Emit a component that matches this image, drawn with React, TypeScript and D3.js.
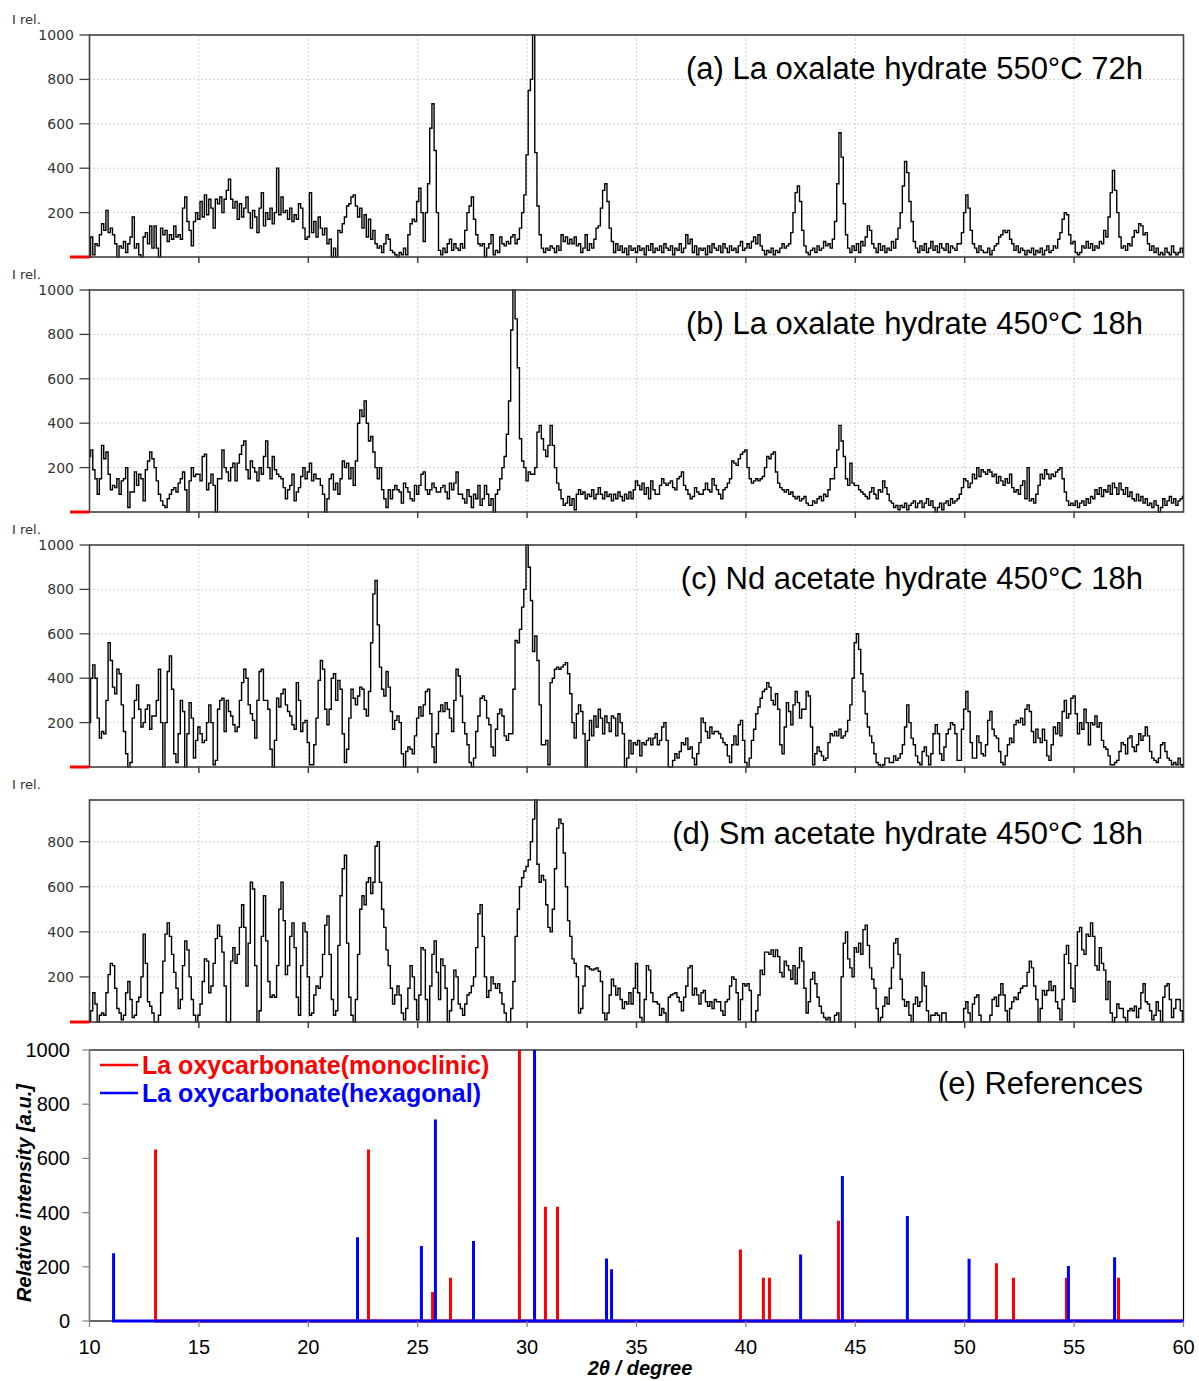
import React from "react";
import * as d3 from "d3";

// Diffractograms sampled every 0.1° from 10° to 60° (2θ)
const SCAN_START = 10;
const SCAN_STEP = 0.1;

const scanA = [
  0, 90, 10, 60, 50, 100, 150, 120, 210, 110,
  130, 100, 60, 0, 50, 40, 70, 20, 60, 90,
  180, 40, 60, 10, 0, 90, 110, 60, 140, 40,
  140, 40, 0, 130, 100, 120, 70, 100, 80, 140,
  90, 100, 80, 220, 270, 160, 120, 50, 160, 200,
  170, 250, 180, 280, 190, 260, 220, 130, 260, 240,
  270, 200, 260, 300, 350, 260, 220, 250, 170, 240,
  180, 220, 270, 200, 130, 210, 180, 110, 220, 290,
  140, 200, 170, 220, 150, 200, 400, 190, 270, 200,
  210, 170, 220, 160, 190, 170, 240, 220, 130, 80,
  90, 290, 110, 160, 90, 180, 130, 100, 130, 60,
  80, 0, 40, 0, 120, 110, 150, 180, 230, 240,
  270, 280, 230, 180, 220, 130, 190, 90, 170, 80,
  120, 60, 40, 50, 20, 60, 100, 80, 30, 20,
  10, 0, 20, 10, 40, 10, 100, 150, 170, 160,
  250, 310, 200, 70, 200, 330, 580, 690, 480, 200,
  30, 10, 40, 20, 60, 80, 30, 60, 40, 30,
  60, 40, 120, 200, 230, 270, 170, 100, 60, 50,
  60, 0, 40, 60, 100, 10, 30, 20, 90, 60,
  50, 70, 60, 90, 100, 60, 80, 130, 200, 280,
  460, 750, 800, 1000, 470, 230, 100, 40, 20, 40,
  30, 50, 40, 20, 50, 30, 100, 70, 90, 60,
  80, 60, 90, 50, 60, 20, 40, 100, 30, 60,
  40, 80, 130, 140, 220, 300, 330, 250, 130, 70,
  20, 60, 30, 50, 20, 40, 10, 50, 30, 40,
  20, 50, 30, 40, 10, 50, 30, 60, 20, 40,
  30, 50, 20, 60, 40, 30, 50, 10, 40, 30,
  60, 20, 40, 100, 60, 80, 20, 50, 10, 40,
  30, 40, 10, 50, 20, 60, 40, 30, 50, 20,
  60, 40, 20, 50, 30, 40, 20, 50, 70, 30,
  40, 60, 40, 70, 90, 60, 100, 50, 30, 10,
  30, 20, 40, 10, 30, 20, 40, 60, 40, 50,
  60, 110, 200, 290, 320, 250, 120, 50, 20, 10,
  30, 40, 20, 50, 30, 40, 70, 50, 60, 40,
  80, 160, 330, 560, 450, 240, 100, 40, 20, 50,
  30, 60, 20, 70, 50, 90, 140, 120, 60, 40,
  20, 60, 30, 50, 20, 40, 30, 70, 40, 80,
  130, 200, 320, 430, 380, 250, 160, 70, 40, 20,
  50, 30, 60, 20, 40, 70, 30, 50, 20, 60,
  40, 30, 60, 20, 50, 40, 30, 60, 60, 110,
  200, 280, 220, 120, 60, 40, 20, 50, 30, 20,
  20, 40, 10, 30, 50, 60, 90, 100, 120, 110,
  120, 80, 60, 30, 50, 20, 40, 30, 10, 30,
  20, 40, 10, 30, 20, 40, 10, 30, 50, 20,
  30, 50, 40, 80, 110, 170, 200, 190, 100, 60,
  70, 20, 10, 20, 50, 40, 70, 40, 60, 30,
  50, 40, 70, 60, 120, 90, 180, 290, 390, 300,
  200, 90, 40, 50, 30, 60, 50, 90, 120, 110,
  150, 140, 100, 110, 60, 30, 50, 20, 40, 10,
  20, 10, 40, 20, 10, 50, 20, 10, 20, 40,
  20,
];

const scanB = [
  250, 280, 190, 150, 80, 150, 300, 240, 270, 170,
  100, 120, 110, 150, 80, 140, 150, 200, 20, 90,
  90, 180, 120, 170, 150, 50, 190, 230, 270, 240,
  200, 140, 80, 50, 30, 20, 60, 80, 100, 110,
  90, 130, 150, 180, 100, 0, 140, 200, 160, 170,
  170, 140, 250, 260, 100, 130, 170, 120, 0, 150,
  150, 280, 200, 180, 140, 200, 220, 140, 220, 260,
  300, 320, 190, 150, 230, 200, 180, 140, 200, 170,
  250, 320, 200, 150, 250, 190, 170, 160, 150, 110,
  60, 100, 120, 170, 50, 90, 110, 160, 200, 150,
  180, 220, 140, 170, 150, 150, 120, 80, 0, 60,
  150, 170, 100, 130, 80, 150, 230, 200, 220, 150,
  200, 120, 230, 400, 460, 430, 500, 400, 320, 340,
  270, 200, 150, 200, 100, 60, 20, 100, 60, 100,
  120, 100, 90, 40, 130, 110, 90, 60, 50, 120,
  80, 120, 170, 180, 100, 80, 100, 130, 110, 90,
  90, 110, 120, 90, 60, 130, 100, 130, 180, 80,
  80, 60, 40, 100, 70, 20, 80, 60, 120, 30,
  60, 120, 80, 30, 60, 0, 80, 100, 150, 200,
  250, 350, 500, 820, 1000, 870, 650, 330, 230, 200,
  140, 180, 170, 170, 200, 360, 390, 330, 280, 250,
  300, 390, 300, 200, 130, 100, 60, 30, 40, 70,
  30, 60, 10, 80, 100, 80, 90, 60, 80, 70,
  100, 60, 80, 110, 80, 60, 90, 70, 80, 50,
  80, 60, 90, 70, 50, 80, 60, 90, 60, 100,
  140, 120, 100, 130, 80, 110, 60, 140, 100, 80,
  80, 120, 150, 130, 120, 130, 140, 110, 100, 150,
  160, 180, 120, 100, 80, 60, 70, 110, 90, 80,
  80, 100, 130, 100, 90, 150, 120, 100, 80, 60,
  100, 110, 130, 150, 230, 220, 210, 240, 260, 270,
  280, 200, 150, 130, 140, 150, 140, 150, 160, 200,
  250, 240, 260, 270, 180, 130, 110, 100, 90, 100,
  80, 90, 70, 60, 70, 50, 60, 70, 40, 30,
  30, 50, 40, 60, 70, 50, 80, 70, 100, 150,
  150, 200, 280, 390, 320, 250, 150, 120, 220, 130,
  120, 120, 100, 90, 80, 70, 60, 90, 110, 80,
  60, 100, 90, 140, 110, 80, 50, 40, 20, 30,
  10, 30, 20, 40, 10, 30, 40, 50, 20, 40,
  50, 20, 40, 60, 30, 50, 20, 0, 20, 40,
  10, 40, 50, 30, 60, 40, 50, 60, 80, 110,
  150, 140, 110, 130, 170, 150, 200, 160, 190, 180,
  170, 190, 180, 160, 170, 130, 160, 140, 120, 150,
  130, 170, 110, 90, 100, 80, 120, 140, 60, 200,
  50, 60, 40, 80, 120, 170, 150, 190, 170, 150,
  170, 160, 180, 190, 200, 150, 90, 50, 30, 40,
  30, 50, 20, 40, 50, 30, 60, 40, 70, 60,
  100, 80, 110, 70, 100, 90, 120, 80, 130, 110,
  80, 130, 100, 80, 110, 70, 90, 60, 50, 80,
  50, 70, 40, 60, 30, 40, 20, 50, 30, 0,
  20, 60, 30, 50, 70, 40, 60, 30, 50, 60,
  70,
];

const scanC = [
  200, 400, 460, 400, 220, 130, 160, 150, 300, 560,
  480, 360, 330, 440, 420, 280, 160, 60, 0, 20,
  220, 300, 370, 260, 180, 200, 260, 280, 170, 230,
  230, 300, 440, 200, 0, 200, 430, 500, 350, 60,
  20, 150, 300, 250, 0, 150, 290, 220, 40, 120,
  180, 150, 110, 120, 200, 280, 200, 10, 30, 260,
  300, 310, 160, 300, 250, 230, 190, 160, 180, 300,
  380, 440, 400, 280, 240, 210, 130, 300, 430, 440,
  300, 300, 260, 80, 0, 120, 310, 270, 330, 350,
  280, 250, 230, 190, 170, 380, 300, 160, 200, 210,
  110, 10, 10, 100, 220, 390, 480, 440, 260, 190,
  260, 400, 420, 300, 390, 350, 150, 20, 80, 220,
  350, 310, 280, 320, 360, 350, 260, 230, 340, 560,
  780, 840, 640, 450, 350, 320, 430, 360, 250, 170,
  210, 230, 200, 60, 0, 70, 90, 80, 60, 140,
  220, 270, 230, 280, 340, 350, 240, 90, 20, 150,
  250, 280, 250, 290, 260, 220, 160, 300, 440, 410,
  320, 200, 150, 100, 20, 0, 40, 160, 230, 310,
  320, 300, 220, 190, 90, 50, 170, 240, 260, 230,
  140, 120, 150, 150, 350, 570, 560, 620, 720, 800,
  1000, 900, 750, 520, 590, 480, 280, 100, 100, 120,
  10, 380, 400, 440, 450, 440, 450, 460, 470, 420,
  330, 200, 130, 240, 280, 250, 150, 0, 120, 210,
  140, 230, 180, 260, 220, 150, 230, 200, 160, 230,
  220, 140, 240, 200, 150, 0, 40, 120, 60, 110,
  100, 120, 50, 110, 100, 120, 130, 100, 130, 150,
  100, 120, 180, 200, 120, 0, 0, 30, 60, 40,
  70, 110, 100, 130, 80, 90, 40, 10, 60, 110,
  220, 200, 160, 130, 180, 150, 160, 160, 150, 130,
  110, 100, 50, 20, 100, 140, 100, 190, 210, 120,
  20, 0, 40, 120, 170, 240, 270, 310, 340, 350,
  380, 360, 300, 280, 330, 260, 100, 60, 180, 290,
  250, 190, 280, 340, 290, 220, 260, 260, 340, 320,
  180, 10, 60, 90, 70, 50, 30, 40, 110, 150,
  140, 160, 140, 170, 130, 140, 160, 210, 280, 400,
  560, 600, 530, 420, 340, 240, 180, 140, 110, 60,
  20, 10, 0, 10, 40, 40, 20, 20, 50, 30,
  40, 60, 100, 180, 280, 200, 130, 100, 50, 20,
  10, 70, 90, 50, 10, 60, 150, 190, 150, 60,
  30, 90, 150, 170, 200, 190, 150, 30, 30, 170,
  260, 340, 250, 110, 40, 40, 140, 110, 60, 50,
  100, 210, 250, 170, 140, 130, 70, 20, 10, 50,
  100, 130, 110, 190, 210, 200, 220, 190, 260, 280,
  250, 160, 110, 170, 130, 110, 170, 120, 50, 30,
  100, 180, 150, 200, 140, 250, 300, 220, 240, 310,
  320, 240, 150, 200, 170, 260, 200, 100, 200, 190,
  230, 180, 200, 120, 90, 80, 50, 10, 10, 20,
  30, 70, 110, 100, 60, 130, 140, 90, 70, 100,
  150, 120, 140, 180, 140, 70, 40, 30, 20, 40,
  100, 110, 70, 40, 30, 10, 20, 10, 40, 10,
  0,
];

const scanD = [
  0, 50, 130, 80, 0, 30, 40, 30, 130, 210,
  260, 250, 150, 60, 40, 10, 30, 130, 180, 100,
  20, 30, 90, 110, 200, 390, 260, 90, 70, 40,
  0, 0, 30, 130, 270, 390, 440, 380, 300, 220,
  150, 60, 100, 250, 360, 320, 200, 100, 30, 0,
  30, 80, 180, 280, 270, 130, 160, 260, 370, 430,
  380, 310, 160, 0, 0, 270, 330, 260, 300, 420,
  520, 420, 160, 350, 620, 590, 250, 0, 50, 380,
  560, 360, 180, 110, 120, 110, 250, 500, 620, 450,
  210, 250, 380, 440, 330, 110, 30, 250, 440, 400,
  200, 30, 40, 120, 160, 150, 200, 300, 430, 470,
  300, 100, 30, 50, 340, 560, 680, 740, 350, 110,
  30, 0, 100, 300, 500, 560, 520, 620, 640, 570,
  620, 780, 800, 620, 500, 420, 320, 250, 150, 80,
  120, 160, 120, 40, 10, 60, 150, 250, 200, 100,
  10, 120, 330, 320, 100, 0, 160, 300, 360, 220,
  100, 280, 250, 150, 0, 50, 100, 230, 200, 80,
  60, 30, 80, 120, 130, 160, 200, 330, 480, 520,
  380, 200, 110, 140, 200, 170, 150, 170, 130, 80,
  40, 0, 0, 60, 180, 380, 500, 600, 640, 670,
  690, 720, 800, 900, 985, 700, 620, 650, 630, 520,
  420, 400, 500, 680, 860, 900, 880, 750, 600, 450,
  380, 280, 260, 200, 40, 60, 160, 250, 245, 235,
  230, 235, 240, 225, 180, 40, 10, 40, 120, 190,
  160, 120, 150, 100, 60, 90, 80, 130, 80, 150,
  260, 130, 20, 0, 100, 250, 230, 130, 90, 90,
  80, 30, 60, 40, 0, 110, 120, 125, 130, 110,
  90, 50, 110, 160, 240, 250, 120, 150, 120, 80,
  130, 140, 90, 70, 90, 60, 100, 90, 90, 50,
  30, 90, 100, 160, 200, 190, 130, 10, 100, 170,
  160, 170, 140, 0, 0, 50, 120, 230, 210, 310,
  310, 300, 320, 290, 320, 290, 220, 200, 270, 250,
  230, 190, 250, 170, 240, 330, 270, 150, 40, 90,
  190, 220, 170, 110, 70, 40, 20, 10, 20, 0,
  0, 30, 40, 0, 200, 350, 400, 280, 240, 200,
  330, 310, 350, 300, 410, 430, 340, 240, 190, 150,
  60, 0, 20, 70, 110, 80, 150, 240, 350, 370,
  300, 190, 100, 70, 90, 30, 0, 80, 110, 70,
  90, 220, 160, 50, 0, 30, 30, 40, 30, 0,
  40, 40, 0, 0, 0, 0, 0, 0, 0, 0,
  60, 90, 40, 0, 80, 110, 120, 30, 0, 0,
  0, 0, 30, 100, 110, 70, 120, 170, 120, 50,
  0, 60, 90, 110, 100, 130, 150, 160, 160, 220,
  270, 240, 160, 100, 0, 60, 140, 120, 140, 180,
  140, 160, 90, 60, 10, 100, 300, 340, 260, 150,
  90, 250, 400, 420, 320, 300, 390, 380, 440, 380,
  250, 230, 330, 260, 230, 100, 180, 40, 0, 20,
  80, 60, 60, 20, 0, 50, 60, 50, 70, 20,
  60, 130, 170, 90, 80, 50, 10, 30, 90, 50,
  0, 110, 160, 170, 100, 20, 60, 100, 100, 50,
  0,
];

const scanTitles = [
  "(a) La oxalate hydrate 550°C 72h",
  "(b) La oxalate hydrate 450°C 18h",
  "(c) Nd acetate hydrate 450°C 18h",
  "(d) Sm acetate hydrate 450°C 18h",
];
const scanYMax = [1000, 1000, 1000, 985];
const scanYTicks = [
  [200, 400, 600, 800, 1000],
  [200, 400, 600, 800, 1000],
  [200, 400, 600, 800, 1000],
  [200, 400, 600, 800],
];
const scanGridX = [15, 20, 25, 30, 35, 40, 45, 50, 55];

// Reference stick patterns
const monoclinicPos = [13.02, 22.75, 25.68, 26.5, 29.65, 30.84, 31.39, 39.75, 40.8, 41.08, 44.23, 51.45, 52.23, 54.65, 57.03];
const monoclinicInt = [633, 633, 107, 160, 1000, 422, 422, 264, 160, 160, 370, 213, 160, 160, 160];
const hexagonalPos = [11.1, 22.25, 25.17, 25.81, 27.55, 30.34, 33.63, 33.86, 42.5, 44.41, 47.38, 50.2, 54.74, 56.85];
const hexagonalInt = [250, 309, 277, 744, 295, 1000, 231, 191, 245, 535, 387, 230, 203, 235];
const refYTicks = [0, 200, 400, 600, 800, 1000];
const refXTicks = [10, 15, 20, 25, 30, 35, 40, 45, 50, 55, 60];
const refTitle = "(e) References";
const legendLabels = ["La oxycarbonate(monoclinic)", "La oxycarbonate(hexagonal)"];

const W = 1199;
const H = 1381;
const LEFT = 89.5;
const RIGHT = 1183.5;
const PANEL_TOPS = [35, 290, 545, 800];
const PANEL_H = 222;
const REF_TOP = 1050;
const REF_BOTTOM = 1321;
const FONT = "'Liberation Sans', Arial, Helvetica, sans-serif";
const SMALL_FONT = "'DejaVu Sans', Verdana, sans-serif";

const x = d3.scaleLinear().domain([10, 60]).range([LEFT, RIGHT]);

function ScanPanel({ data, top, yMax, ticks, title }: { data: number[]; top: number; yMax: number; ticks: number[]; title: string }) {
  const bottom = top + PANEL_H;
  const y = d3.scaleLinear().domain([0, yMax]).range([bottom, top]);
  const line = d3
    .line<number>()
    .x((_, i) => x(SCAN_START + i * SCAN_STEP))
    .y((d) => y(d))
    .curve(d3.curveStep);
  return (
    <g>
      {ticks.filter((t) => t < yMax).map((t) => (
        <line key={"h" + t} x1={LEFT} x2={RIGHT} y1={y(t)} y2={y(t)} stroke="#c4c4c4" strokeWidth={1} strokeDasharray="1.5,2.5" />
      ))}
      {scanGridX.map((t) => (
        <line key={"v" + t} x1={x(t)} x2={x(t)} y1={top} y2={bottom} stroke="#c4c4c4" strokeWidth={1} strokeDasharray="1.5,2.5" />
      ))}
      <path d={line(data) || ""} fill="none" stroke="#000" strokeWidth={1.4} />
      <rect x={LEFT} y={top} width={RIGHT - LEFT} height={PANEL_H} fill="none" stroke="#404040" strokeWidth={1.6} />
      {scanGridX.map((t) => (
        <line key={"t" + t} x1={x(t)} x2={x(t)} y1={bottom} y2={bottom + 6} stroke="#404040" strokeWidth={1.5} />
      ))}
      <line x1={70} x2={LEFT} y1={bottom} y2={bottom} stroke="#ff0000" strokeWidth={3} />
      {ticks.map((t) => (
        <g key={"l" + t}>
          <line x1={LEFT - 10} x2={LEFT} y1={y(t)} y2={y(t)} stroke="#404040" strokeWidth={1.3} />
          <text x={74} y={y(t) + 5} textAnchor="end" fontFamily={SMALL_FONT} fontSize={14} fill="#333">
            {t}
          </text>
        </g>
      ))}
      <text x={12} y={top - 11} fontFamily={SMALL_FONT} fontSize={13} fill="#333">
        I rel.
      </text>
      <text x={1143} y={top + 44} textAnchor="end" fontFamily={FONT} fontSize={31} fill="#000">
        {title}
      </text>
    </g>
  );
}

function stickPoints(pos: number[], ints: number[]): [number, number][] {
  const pts: [number, number][] = [[pos[0], 0]];
  pos.forEach((p, i) => {
    pts.push([p, 0], [p, ints[i]], [p, 0]);
  });
  pts.push([60, 0]);
  return pts;
}

function ReferencePanel() {
  const y = d3.scaleLinear().domain([0, 1000]).range([REF_BOTTOM, REF_TOP]);
  const line = d3
    .line<[number, number]>()
    .x((d) => x(d[0]))
    .y((d) => y(d[1]));
  const mono = line(stickPoints(monoclinicPos, monoclinicInt)) || "";
  const hexa = line(stickPoints(hexagonalPos, hexagonalInt)) || "";
  return (
    <g>
      <rect x={LEFT} y={REF_TOP} width={RIGHT - LEFT} height={REF_BOTTOM - REF_TOP} fill="none" stroke="#000" strokeWidth={1.2} />
      <line x1={LEFT} x2={LEFT} y1={REF_TOP} y2={REF_BOTTOM} stroke="#808080" strokeWidth={1.5} />
      <path d={mono} fill="none" stroke="#ff0000" strokeWidth={3} />
      <path d={hexa} fill="none" stroke="#0000ff" strokeWidth={3} />
      {refYTicks.map((t) => (
        <g key={"y" + t}>
          <line x1={LEFT - 7} x2={LEFT} y1={y(t)} y2={y(t)} stroke="#808080" strokeWidth={1.2} />
          <text x={70} y={y(t) + 7} textAnchor="end" fontFamily={FONT} fontSize={20} fill="#000">
            {t}
          </text>
        </g>
      ))}
      {refXTicks.map((t) => (
        <g key={"x" + t}>
          <line x1={x(t)} x2={x(t)} y1={REF_BOTTOM} y2={REF_BOTTOM + 6} stroke="#808080" strokeWidth={1.2} />
          <text x={x(t)} y={REF_BOTTOM + 33} textAnchor="middle" fontFamily={FONT} fontSize={20} fill="#000">
            {t}
          </text>
        </g>
      ))}
      <text x={640} y={1375} textAnchor="middle" fontFamily={FONT} fontSize={20} fontWeight="bold" fontStyle="italic" fill="#000">
        2θ / degree
      </text>
      <text transform="translate(31,1193) rotate(-90)" textAnchor="middle" fontFamily={FONT} fontSize={20} fontWeight="bold" fontStyle="italic" fill="#000">
        Relative intensity [a.u.]
      </text>
      <line x1={100} x2={138} y1={1065} y2={1065} stroke="#ff0000" strokeWidth={2.5} />
      <text x={142} y={1074} fontFamily={FONT} fontSize={25} fontWeight="bold" fill="#ff0000">
        {legendLabels[0]}
      </text>
      <line x1={100} x2={138} y1={1093} y2={1093} stroke="#0000ff" strokeWidth={2.5} />
      <text x={142} y={1102} fontFamily={FONT} fontSize={25} fontWeight="bold" fill="#0000ff">
        {legendLabels[1]}
      </text>
      <text x={1143} y={1094} textAnchor="end" fontFamily={FONT} fontSize={31} fill="#000">
        {refTitle}
      </text>
    </g>
  );
}

export default function App() {
  const scans = [scanA, scanB, scanC, scanD];
  return (
    <svg width={W} height={H} viewBox={`0 0 ${W} ${H}`} style={{ position: "absolute", left: 0, top: 0, background: "#fff" }}>
      <rect width={W} height={H} fill="#fff" />
      {scans.map((s, i) => (
        <ScanPanel key={i} data={s} top={PANEL_TOPS[i]} yMax={scanYMax[i]} ticks={scanYTicks[i]} title={scanTitles[i]} />
      ))}
      <ReferencePanel />
    </svg>
  );
}
